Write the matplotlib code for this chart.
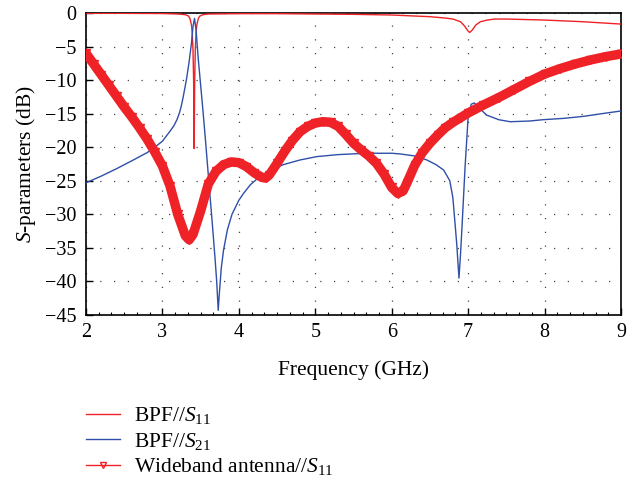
import matplotlib
matplotlib.use("Agg")
import matplotlib.pyplot as plt
from matplotlib.lines import Line2D
from matplotlib.ticker import MultipleLocator

# ---- data (frequency in GHz, magnitude in dB) ----
bpf_s11_f = [2.0, 2.5, 3.0, 3.2, 3.30, 3.34, 3.36, 3.38, 3.39, 3.40, 3.408, 3.415,
             3.422, 3.43, 3.44, 3.45, 3.47, 3.49, 3.53, 3.6, 4.0, 4.5, 5.0, 5.5,
             6.0, 6.3, 6.5, 6.7, 6.8, 6.9, 6.95, 7.0, 7.02, 7.05, 7.1, 7.16, 7.25,
             7.35, 7.5, 8.0, 8.5, 9.0]
bpf_s11_db = [-0.05, -0.05, -0.08, -0.15, -0.25, -0.45, -0.8, -1.8, -3.0, -5.5, -10.0, -20.2,
              -10.0, -5.5, -3.0, -1.8, -0.8, -0.45, -0.25, -0.15, -0.1, -0.1, -0.15, -0.2,
              -0.3, -0.45, -0.55, -0.75, -0.9, -1.3, -1.9, -2.7, -2.9, -2.6, -1.8, -1.3, -1.05,
              -0.9, -0.9, -1.05, -1.3, -1.65]

bpf_s21_f = [2.0, 2.2, 2.4, 2.62, 2.8, 2.9, 3.0, 3.1, 3.15, 3.19, 3.21, 3.23, 3.25,
             3.27, 3.30, 3.32, 3.35, 3.38, 3.40, 3.42, 3.44, 3.47, 3.53, 3.56, 3.58,
             3.62, 3.65, 3.69, 3.71, 3.73, 3.74, 3.77, 3.80, 3.85, 3.91, 4.0, 4.06,
             4.15, 4.25, 4.4, 4.58, 4.8, 5.02, 5.3, 5.67, 6.0, 6.11, 6.3, 6.46,
             6.58, 6.68, 6.76, 6.80, 6.85, 6.88, 6.90, 6.92, 6.96, 7.00, 7.04, 7.08,
             7.15, 7.24, 7.4, 7.55, 7.8, 7.98, 8.25, 8.51, 8.75, 9.0]
bpf_s21_db = [-25.3, -24.3, -23.2, -21.9, -20.8, -20.0, -19.1, -17.6, -16.8, -15.9, -15.3, -14.6, -13.7,
              -12.6, -10.8, -9.5, -7.2, -4.5, -2.0, -0.8, -2.5, -7.0, -14.5, -18.5, -21.3,
              -26.9, -31.0, -36.8, -40.0, -44.3, -42.5, -38.0, -35.3, -32.3, -30.0, -27.9, -26.9,
              -25.6, -24.6, -23.5, -22.6, -21.9, -21.4, -21.1, -20.9, -20.9, -21.0, -21.3, -21.9,
              -22.6, -23.4, -25.0, -27.5, -34.3, -39.5, -36.0, -31.8, -22.9, -15.5, -13.6, -13.4,
              -14.2, -15.2, -15.9, -16.2, -16.1, -15.9, -15.7, -15.4, -15.0, -14.6]

ant_f = [2.0, 2.1, 2.2, 2.3, 2.4, 2.5, 2.6, 2.7, 2.8, 2.9, 3.0, 3.1, 3.2, 3.3, 3.35,
         3.4, 3.5, 3.6, 3.7, 3.8, 3.9, 4.0, 4.1, 4.2, 4.3, 4.35, 4.4, 4.5, 4.6, 4.7,
         4.8, 4.9, 5.0, 5.1, 5.2, 5.3, 5.4, 5.5, 5.6, 5.7, 5.8, 5.9, 6.0, 6.08, 6.15,
         6.2, 6.3, 6.4, 6.5, 6.6, 6.7, 6.8, 6.9, 7.0, 7.2, 7.4, 7.6, 7.8, 8.0, 8.2,
         8.4, 8.6, 8.8, 9.0]
ant_db = [-6.0, -7.6, -9.2, -10.8, -12.4, -14.0, -15.5, -17.1, -18.8, -20.7, -22.8, -25.8, -30.0, -33.2, -33.8,
          -33.0, -29.5, -25.5, -23.6, -22.6, -22.2, -22.3, -22.9, -23.8, -24.5, -24.6, -24.1, -22.4, -20.6, -19.0,
          -17.7, -16.9, -16.4, -16.2, -16.3, -16.9, -18.1, -19.4, -20.4, -21.3, -22.4, -24.0, -26.0, -26.9, -26.5,
          -25.3, -22.7, -20.8, -19.4, -18.2, -17.1, -16.3, -15.6, -14.9, -13.7, -12.6, -11.4, -10.2, -9.1, -8.3,
          -7.6, -7.0, -6.5, -6.1]

xticks = [2, 3, 4, 5, 6, 7, 8, 9]
yticks = [0, -5, -10, -15, -20, -25, -30, -35, -40, -45]

RED = "#ee2227"
BLUE = "#2f4fa8"

plt.rcParams["font.family"] = ["Liberation Serif", "DejaVu Serif"]
plt.rcParams["mathtext.fontset"] = "custom"
plt.rcParams["mathtext.rm"] = "Liberation Serif"
plt.rcParams["mathtext.it"] = "Liberation Serif:italic"
plt.rcParams["axes.unicode_minus"] = True

fig = plt.figure(figsize=(6.39, 4.83), dpi=100)
ax = fig.add_axes([86 / 639, 1 - 315 / 483, (621 - 86) / 639, (315 - 13) / 483])

ax.plot(bpf_s11_f, bpf_s11_db, color=RED, lw=1.0, zorder=3)
ax.plot(bpf_s21_f, bpf_s21_db, color=BLUE, lw=1.0, zorder=4)
# wideband antenna: dense band of open triangle markers
ax.plot(ant_f, ant_db, color=RED, lw=6.8, solid_capstyle="round",
        solid_joinstyle="round", zorder=5)
ax.plot(ant_f, ant_db, linestyle="none", marker="v", markersize=6,
        markerfacecolor="none", markeredgecolor=RED, markeredgewidth=1.0, zorder=6)

ax.set_xlim(2, 9)
ax.set_ylim(-45, 0)
ax.set_xticks(xticks)
ax.set_yticks(yticks)
ax.xaxis.set_minor_locator(MultipleLocator(1 / 6))
ax.tick_params(axis="both", which="major", direction="in", length=5, width=1.0,
               labelsize=14.5, colors="black")
ax.tick_params(axis="x", which="major", pad=6)
ax.tick_params(axis="y", which="major", pad=7)
ax.tick_params(axis="x", which="minor", direction="in", length=2.5, width=0.8)

for s in ax.spines.values():
    s.set_linewidth(1.2)
    s.set_color("black")

ax.grid(True, which="major", color="#444444", linestyle=(0, (1, 10)), lw=0.9)
ax.set_axisbelow(True)

ax.set_xlabel("Frequency (GHz)", fontsize=15.5, labelpad=13)
ax.set_ylabel("$S$-parameters (dB)", fontsize=15.5, labelpad=5)

handles = [
    Line2D([], [], color=RED, lw=1.0),
    Line2D([], [], color=BLUE, lw=1.0),
    Line2D([], [], color=RED, lw=1.0, marker="v", markersize=5,
           markerfacecolor="none", markeredgecolor=RED),
]
labels = ["BPF//$S_{11}$", "BPF//$S_{21}$", "Wideband antenna//$S_{11}$"]
fig.legend(handles, labels, loc="upper left", bbox_to_anchor=(80 / 639, 1 - 399 / 483),
           frameon=False, fontsize=15.5, handlelength=1.55, handletextpad=0.65,
           labelspacing=0.2, borderaxespad=0, borderpad=0.3)

fig.savefig("out.png", dpi=100)
